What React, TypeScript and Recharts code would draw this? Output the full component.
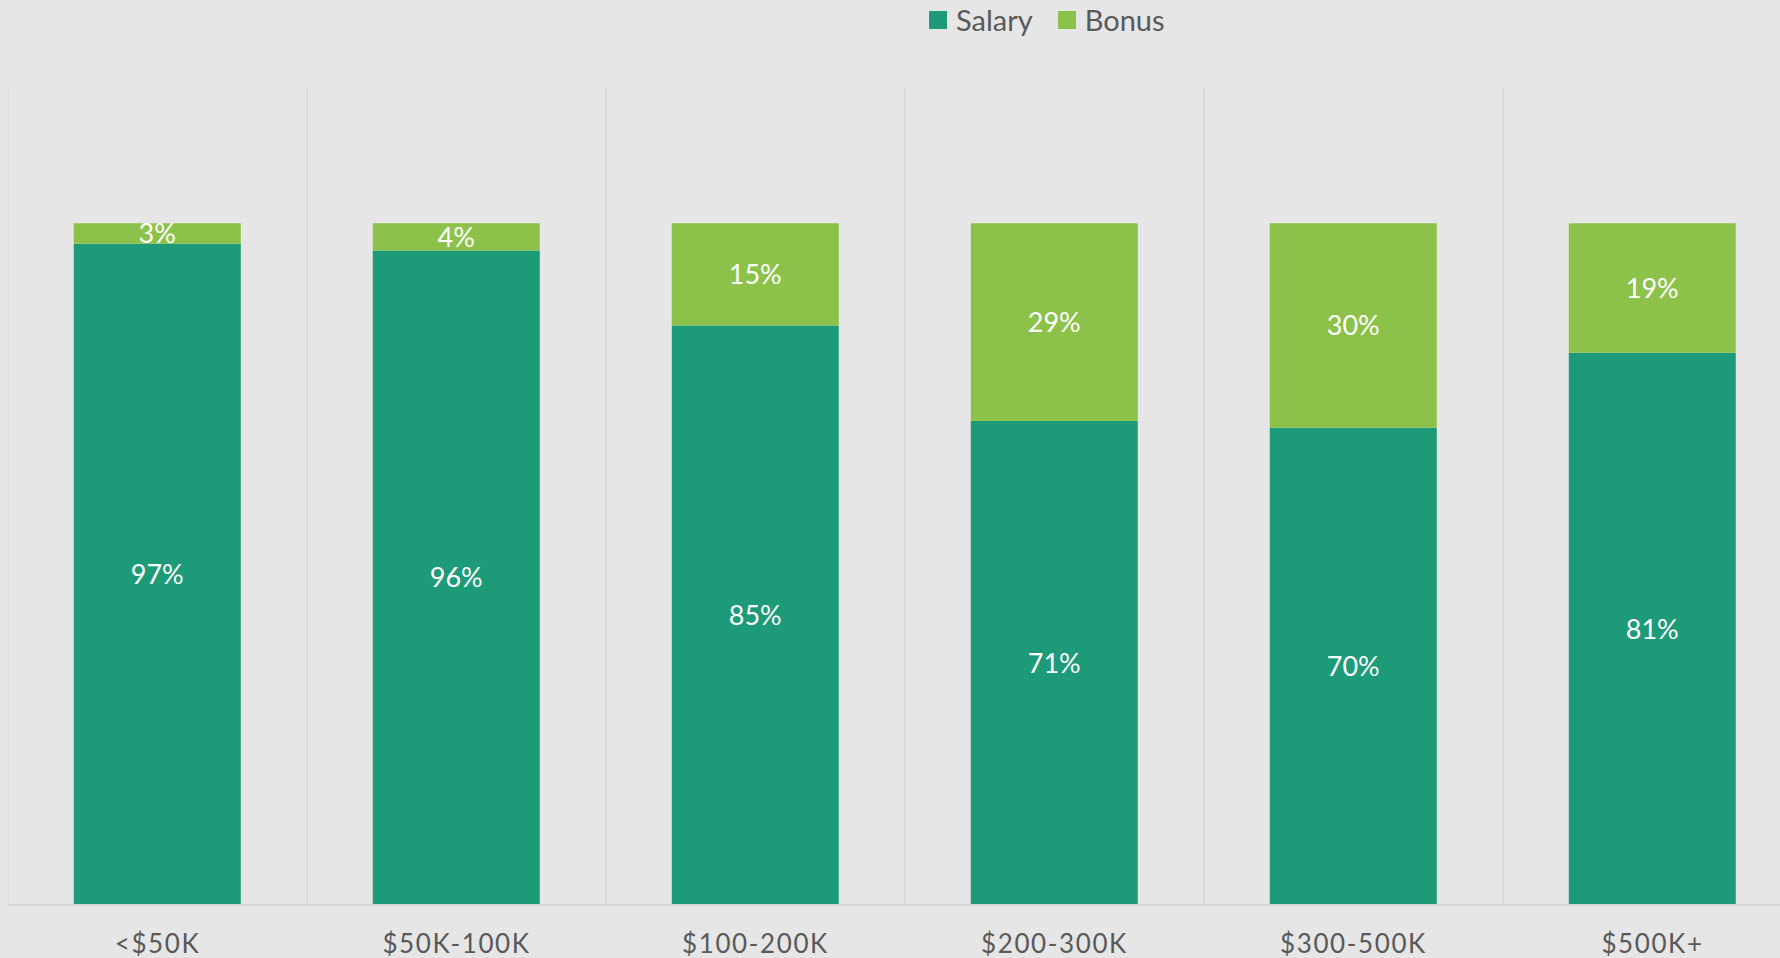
import React from "react";
import { BarChart, Bar, XAxis, YAxis, CartesianGrid, Legend, LabelList } from "recharts";

const categories = ["<$50K", "$50K-100K", "$100-200K", "$200-300K", "$300-500K", "$500K+"];
const salary = [97, 96, 85, 71, 70, 81];
const bonus = [3, 4, 15, 29, 30, 19];
const seriesOrder = ["Salary", "Bonus"];

const data = categories.map((c, i) => ({ name: c, Salary: salary[i], Bonus: bonus[i] }));

const FONT = "Lato, 'Open Sans', sans-serif";
const SALARY_COLOR = "#1D9A78";
const BONUS_COLOR = "#8CC24A";
const GRID = "#D6D6D6";

const XTick = (props: any) => {
  const { x, y, payload } = props;
  return (
    <text
      x={x}
      y={y + 22}
      dy="0.71em"
      textAnchor="middle"
      fill="#595959"
      fontSize={26}
      fontFamily={FONT}
      letterSpacing={1.6}
    >
      {payload.value}
    </text>
  );
};

const LegendContent = (props: any) => {
  const items = [...(props.payload || [])].sort(
    (a: any, b: any) => seriesOrder.indexOf(a.value) - seriesOrder.indexOf(b.value)
  );
  return (
    <div style={{ display: "flex", alignItems: "center", fontFamily: FONT, height: 30 }}>
      {items.map((p: any, i: number) => (
        <div key={i} style={{ display: "flex", alignItems: "center", marginRight: 25 }}>
          <div style={{ width: 18, height: 18, background: p.color, marginRight: 9 }} />
          <span style={{ fontSize: 29, color: "#595959", lineHeight: "30px" }}>{p.value}</span>
        </div>
      ))}
    </div>
  );
};

export default function App() {
  return (
    <div
      style={{
        position: "absolute",
        left: 0,
        top: 0,
        width: 1780,
        height: 958,
        background: "#E6E6E6",
        overflow: "hidden",
      }}
    >
      <div style={{ position: "absolute", left: 8, top: 0 }}>
        <BarChart
          width={1794}
          height={958}
          data={data}
          margin={{ top: 87, right: 0, left: 0, bottom: 0 }}
          barCategoryGap="22%"
        >
          <CartesianGrid
            horizontal={false}
            stroke={GRID}
            strokeWidth={1.5}
            verticalCoordinatesGenerator={({ offset }: any) =>
              Array.from({ length: categories.length + 1 }, (_, i) => offset.left + (i * offset.width) / categories.length)
            }
          />
          <XAxis
            dataKey="name"
            height={53}
            axisLine={{ stroke: GRID, strokeWidth: 2 }}
            tickLine={false}
            tick={<XTick />}
            interval={0}
          />
          <YAxis hide domain={[0, 120]} />
          <Legend
            verticalAlign="top"
            content={<LegendContent />}
            wrapperStyle={{ position: "absolute", top: 5, left: 921, width: 400, height: 0, overflow: "visible" }}
          />
          <Bar dataKey="Salary" stackId="a" fill={SALARY_COLOR} isAnimationActive={false}>
            <LabelList
              dataKey="Salary"
              position="center"
              fill="#FFFFFF"
              fontSize={27}
              fontFamily={FONT}
              formatter={(v: any) => `${v}%`}
            />
          </Bar>
          <Bar dataKey="Bonus" stackId="a" fill={BONUS_COLOR} isAnimationActive={false}>
            <LabelList
              dataKey="Bonus"
              position="center"
              fill="#FFFFFF"
              fontSize={27}
              fontFamily={FONT}
              formatter={(v: any) => `${v}%`}
            />
          </Bar>
        </BarChart>
      </div>
    </div>
  );
}
